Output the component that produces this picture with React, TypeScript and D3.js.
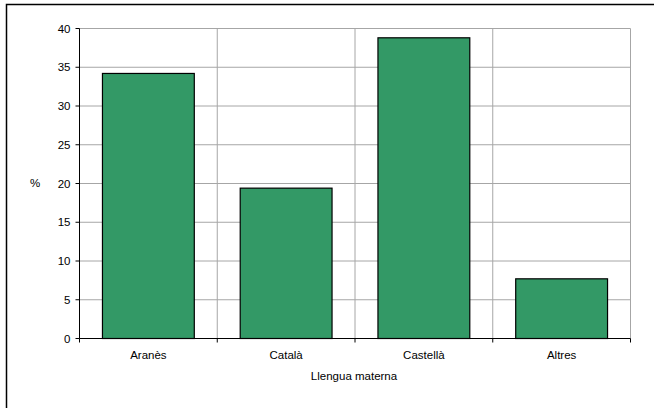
import React from "react";
import * as d3 from "d3";

const categories = ["Aranès", "Català", "Castellà", "Altres"];
const values = [34.2, 19.4, 38.8, 7.7];
const yTicks = [0, 5, 10, 15, 20, 25, 30, 35, 40];
const yLabel = "%";
const xLabel = "Llengua materna";

export default function App() {
  const W = 654, H = 408;
  const left = 79.5, right = 630.5, top = 28.5, bottom = 338.5;
  const x = d3.scaleBand<string>().domain(categories).range([left, right]).paddingInner(0).paddingOuter(0);
  const y = d3.scaleLinear().domain([0, 40]).range([bottom, top]);
  const bw = x.bandwidth() / 1.5;
  const font = "'Liberation Sans', Arial, sans-serif";
  const fs = 11.5;
  const boundaries = categories.map((c) => x(c)!).concat([right]);
  return (
    <svg width={W} height={H} style={{ position: "absolute", left: 0, top: 0 }} fontFamily={font}>
      <rect x={0} y={0} width={W} height={H} fill="#fff" />
      <rect x={6.5} y={4.5} width={W + 10} height={H + 10} fill="none" stroke="#000" strokeWidth={1.5} />
      {yTicks.slice(1).map((t) => (
        <line key={"h" + t} x1={left} x2={right} y1={y(t)} y2={y(t)} stroke="#a6a6a6" strokeWidth={1} />
      ))}
      {boundaries.slice(1).map((b, i) => (
        <line key={"v" + i} x1={b} x2={b} y1={top} y2={bottom} stroke="#a6a6a6" strokeWidth={1} />
      ))}
      {categories.map((c, i) => (
        <rect
          key={c}
          x={x(c)! + (x.bandwidth() - bw) / 2}
          y={y(values[i])}
          width={bw}
          height={bottom - y(values[i])}
          fill="#339966"
          stroke="#000"
          strokeWidth={1.2}
        />
      ))}
      <line x1={left} x2={left} y1={top} y2={bottom} stroke="#000" strokeWidth={1} />
      {yTicks.map((t) => (
        <g key={"yt" + t}>
          <line x1={left - 4} x2={left} y1={y(t)} y2={y(t)} stroke="#000" />
          <text x={left - 9} y={y(t)} dy="0.35em" textAnchor="end" fontSize={fs} fill="#000">
            {t}
          </text>
        </g>
      ))}
      <line x1={left} x2={right} y1={bottom} y2={bottom} stroke="#000" strokeWidth={1} />
      {boundaries.map((b, i) => (
        <line key={"xt" + i} x1={b} x2={b} y1={bottom} y2={bottom + 4} stroke="#000" />
      ))}
      {categories.map((c) => (
        <text key={"xl" + c} x={x(c)! + x.bandwidth() / 2} y={359} textAnchor="middle" fontSize={fs} fill="#000">
          {c}
        </text>
      ))}
      <text x={35} y={182.5} dy="0.35em" textAnchor="middle" fontSize={fs} fill="#000">
        {yLabel}
      </text>
      <text x={354} y={380} textAnchor="middle" fontSize={fs} fill="#000">
        {xLabel}
      </text>
    </svg>
  );
}
